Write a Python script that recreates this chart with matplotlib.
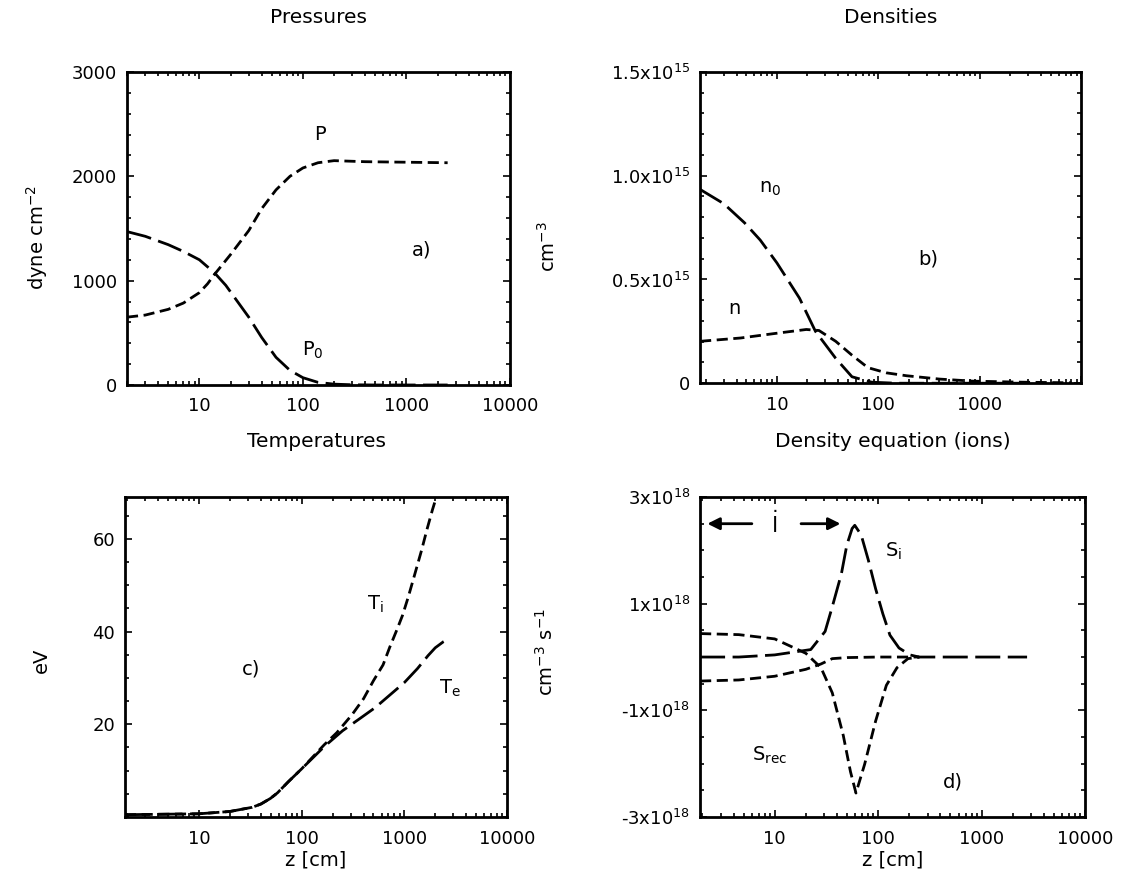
import matplotlib
matplotlib.use("Agg")
import matplotlib.pyplot as plt
from matplotlib.ticker import MultipleLocator, NullFormatter, LogLocator

plt.rcParams['font.family'] = ['DejaVu Sans']
plt.rcParams['mathtext.default'] = 'regular'
plt.rcParams['font.size'] = 13

# a) Pressures
z_p = [2, 3, 5, 7, 10, 12, 14, 20, 30, 40, 55, 75, 100, 140, 200, 400, 1000, 2500]
P = [650, 670, 725, 785, 885, 970, 1060, 1250, 1480, 1690, 1870, 2000, 2080, 2130, 2150, 2140,
     2135, 2130]
z_p0 = [2, 3, 5, 7, 10, 14, 18, 22, 30, 40, 55, 75, 100, 140, 200, 300, 500, 2500]
P0 = [1470, 1425, 1345, 1280, 1200, 1075, 955, 835, 650, 455, 265, 140, 70, 25, 8, 2, 0, 0]

# b) Densities (units of 1e15 cm^-3)
z_n0 = [1.75, 3, 4.8, 6.85, 10, 16.7, 24, 38, 55, 86, 150, 3000]
n0 = [0.934, 0.865, 0.773, 0.69, 0.58, 0.41, 0.25, 0.12, 0.031, 0.005, 0.0, 0.0]
z_n = [1.75, 4.4, 9.3, 19.5, 26, 38, 55, 79, 120, 190, 400, 860, 2600, 8000]
n = [0.202, 0.218, 0.239, 0.259, 0.254, 0.202, 0.135, 0.075, 0.05, 0.036, 0.02, 0.01, 0.005, 0.002]

# c) Temperatures (eV)
z_te = [1.9, 10, 20, 33, 40, 49.5, 58, 74, 100, 166, 250, 372, 520, 1000, 1340, 1700, 2000,
        2400, 2700]
Te = [0.5, 0.7, 1.2, 2.1, 2.8, 4.0, 5.2, 7.6, 10.4, 15.2, 18.6, 21.3, 23.6, 29.0, 32.0, 34.8,
      36.5, 37.8, 38.4]
z_ti = [1.9, 10, 20, 33, 40, 49.5, 58, 74, 100, 166, 220, 310, 400, 500, 620, 720, 850, 960,
        1090, 1250, 1470, 1660, 1880, 2050]
Ti = [0.5, 0.7, 1.2, 2.1, 2.8, 4.0, 5.2, 7.6, 10.4, 15.6, 18.2, 22.1, 25.5, 29.4, 32.8, 36.6,
      40.5, 43.5, 47.4, 52.0, 57.5, 62.0, 66.3, 69.0]

# d) Density equation (units of 1e18 cm^-3 s^-1)
z_si = [1.9, 4.5, 10, 22.3, 30.7, 36.1, 44.1, 49.8, 56, 59.4, 68.5, 80.3, 94.5, 111, 130,
        159, 203, 248, 2750]
Si = [0.0, 0.0, 0.04, 0.14, 0.48, 0.95, 1.56, 2.1, 2.41, 2.47, 2.29, 1.82, 1.28, 0.81, 0.41,
      0.17, 0.04, 0.0, 0.0]
z_rec = [1.9, 4.5, 10, 20, 28, 36, 50, 100, 250]
Srec = [-0.45, -0.43, -0.36, -0.23, -0.13, -0.03, -0.01, 0.0, 0.0]
z_div = [1.9, 4.5, 10, 20, 28, 36, 46, 54, 61, 74, 94.5, 120, 152, 194, 250]
div = [0.44, 0.42, 0.34, 0.07, -0.2, -0.67, -1.47, -2.15, -2.55, -2.01, -1.2, -0.53, -0.2,
       -0.03, 0.0]

SHORT = (4, 2)
LONG = (9, 2.7)
LW = 2.0
TITLE_FS = 14.5
LABEL_FS = 14


def style_axes(ax, xmin):
    ax.set_xscale('log')
    ax.set_xlim(xmin, 1e4)
    ax.xaxis.set_minor_locator(LogLocator(base=10, subs=range(2, 10), numticks=40))
    ax.xaxis.set_minor_formatter(NullFormatter())
    ax.set_xticks([10, 100, 1000, 10000])
    ax.set_xticklabels(['10', '100', '1000', '10000'])
    ax.tick_params(which='both', direction='in', top=True, right=True, width=1.2)
    ax.tick_params(which='major', length=5)
    ax.tick_params(which='minor', length=3)
    ax.tick_params(axis='x', which='major', pad=9)
    ax.tick_params(axis='y', which='major', pad=7)
    for s in ax.spines.values():
        s.set_linewidth(2.0)


def side_text(ax, x, y, s, rot=0, fs=LABEL_FS):
    ax.text(x, y, s, transform=ax.transAxes, ha='center', va='center',
            rotation=rot, fontsize=fs)


fig = plt.figure(figsize=(11.31, 8.83), dpi=100)

ax_a = fig.add_axes([0.1123, 0.564, 0.3386, 0.3545])
ax_b = fig.add_axes([0.619, 0.566, 0.337, 0.3525])
ax_c = fig.add_axes([0.1105, 0.0747, 0.3378, 0.3624])
ax_d = fig.add_axes([0.619, 0.0747, 0.3404, 0.3624])

# a)
style_axes(ax_a, 2)
ax_a.plot(z_p, P, color='black', lw=LW, dashes=SHORT)
ax_a.plot(z_p0, P0, color='black', lw=LW, dashes=LONG)
ax_a.set_ylim(0, 3000)
ax_a.set_yticks([0, 1000, 2000, 3000])
ax_a.yaxis.set_minor_locator(MultipleLocator(200))
side_text(ax_a, -0.235, 0.47, 'dyne cm$^{-2}$', rot=90)
side_text(ax_a, 0.5, 1.1725, 'Pressures', fs=TITLE_FS)
ax_a.text(145, 2400, 'P', ha='center', va='center', fontsize=LABEL_FS)
ax_a.text(124, 330, 'P$_0$', ha='center', va='center', fontsize=LABEL_FS)
ax_a.text(1400, 1290, 'a)', ha='center', va='center', fontsize=LABEL_FS)

# b)
style_axes(ax_b, 1.75)
ax_b.set_xticklabels(['10', '100', '1000', ''])
ax_b.plot(z_n, [v * 1e15 for v in n], color='black', lw=LW, dashes=SHORT)
ax_b.plot(z_n0, [v * 1e15 for v in n0], color='black', lw=LW, dashes=LONG)
ax_b.set_ylim(0, 1.5e15)
ax_b.set_yticks([0, 0.5e15, 1.0e15, 1.5e15])
ax_b.set_yticklabels(['0', '0.5x10$^{15}$', '1.0x10$^{15}$', '1.5x10$^{15}$'])
ax_b.yaxis.set_minor_locator(MultipleLocator(0.1e15))
side_text(ax_b, -0.40, 0.44, 'cm$^{-3}$', rot=90)
side_text(ax_b, 0.5, 1.175, 'Densities', fs=TITLE_FS)
ax_b.text(8.6, 0.94e15, 'n$_0$', ha='center', va='center', fontsize=LABEL_FS)
ax_b.text(3.85, 0.36e15, 'n', ha='center', va='center', fontsize=LABEL_FS)
ax_b.text(310, 0.6e15, 'b)', ha='center', va='center', fontsize=LABEL_FS)

# c)
style_axes(ax_c, 1.9)
ax_c.plot(z_ti, Ti, color='black', lw=LW, dashes=SHORT)
ax_c.plot(z_te, Te, color='black', lw=LW, dashes=LONG)
ax_c.set_ylim(0, 69)
ax_c.set_yticks([20, 40, 60])
ax_c.yaxis.set_minor_locator(MultipleLocator(5))
side_text(ax_c, -0.22, 0.49, 'eV', rot=90)
side_text(ax_c, 0.5, -0.135, 'z [cm]')
side_text(ax_c, 0.5, 1.175, 'Temperatures', fs=TITLE_FS)
ax_c.text(516, 45.9, 'T$_i$', ha='center', va='center', fontsize=LABEL_FS)
ax_c.text(2800, 27.8, 'T$_e$', ha='center', va='center', fontsize=LABEL_FS)
ax_c.text(31.8, 32, 'c)', ha='center', va='center', fontsize=LABEL_FS)

# d)
style_axes(ax_d, 1.9)
ax_d.plot(z_si, [v * 1e18 for v in Si], color='black', lw=LW, dashes=LONG)
ax_d.plot(z_rec, [v * 1e18 for v in Srec], color='black', lw=LW, dashes=SHORT)
ax_d.plot(z_div, [v * 1e18 for v in div], color='black', lw=LW, dashes=SHORT)
ax_d.set_ylim(-3e18, 3e18)
ax_d.set_yticks([-3e18, -1e18, 1e18, 3e18])
ax_d.set_yticklabels(['-3x10$^{18}$', '-1x10$^{18}$', '1x10$^{18}$', '3x10$^{18}$'])
ax_d.yaxis.set_minor_locator(MultipleLocator(0.5e18))
side_text(ax_d, -0.40, 0.515, 'cm$^{-3}$ s$^{-1}$', rot=90)
side_text(ax_d, 0.5, -0.135, 'z [cm]')
side_text(ax_d, 0.5, 1.175, 'Density equation (ions)', fs=TITLE_FS)
ax_d.annotate('', xy=(2.1, 2.5e18), xytext=(6.4, 2.5e18),
              arrowprops=dict(arrowstyle='-|>', lw=2.0, color='black', mutation_scale=18))
ax_d.annotate('', xy=(46, 2.5e18), xytext=(16.9, 2.5e18),
              arrowprops=dict(arrowstyle='-|>', lw=2.0, color='black', mutation_scale=18))
ax_d.text(10, 2.5e18, r'$\dot{l}$', ha='center', va='center', fontsize=16)
ax_d.text(141, 1.99e18, 'S$_i$', ha='center', va='center', fontsize=LABEL_FS)
ax_d.text(8.9, -1.84e18, 'S$_{rec}$', ha='center', va='center', fontsize=LABEL_FS)
ax_d.text(530, -2.35e18, 'd)', ha='center', va='center', fontsize=LABEL_FS)

fig.savefig('out.png', dpi=100)
